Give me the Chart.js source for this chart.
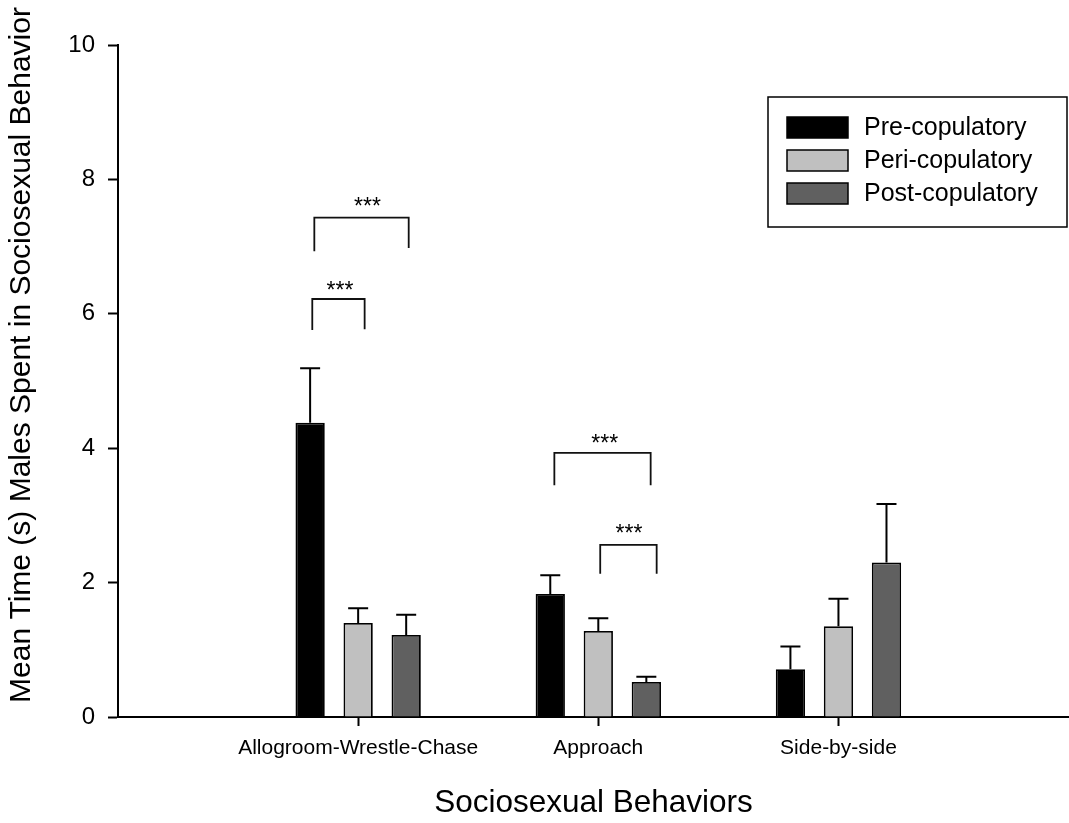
<!DOCTYPE html>
<html><head><meta charset="utf-8">
<script src="https://cdn.jsdelivr.net/npm/chart.js@4.4.1/dist/chart.umd.min.js"></script>
<style>html,body{margin:0;padding:0;background:#fff;overflow:hidden}#wrap{width:1069px;height:823px;position:relative}</style>
</head><body><div id="wrap"><canvas id="c"></canvas></div>
<script>
const categories = ['Allogroom-Wrestle-Chase', 'Approach', 'Side-by-side'];
const categoryPositions = [1, 2, 3];
const seriesNames = ['Pre-copulatory', 'Peri-copulatory', 'Post-copulatory'];
const seriesColors = ['#000000', '#c0c0c0', '#606060'];
const preMeans = [4.38, 1.83, 0.71];
const periMeans = [1.40, 1.28, 1.35];
const postMeans = [1.22, 0.52, 2.30];
const preErr = [0.81, 0.28, 0.34];
const periErr = [0.22, 0.19, 0.41];
const postErr = [0.30, 0.08, 0.87];
const yTicks = [0, 2, 4, 6, 8, 10];
const bracketStart = [0.809, 0.8175, 1.817, 2.008];
const bracketEnd = [1.027, 1.2105, 2.218, 2.243];
const bracketTop = [6.22, 7.43, 3.93, 2.56];
const bracketLeftFoot = [5.76, 6.93, 3.45, 2.13];
const bracketRightFoot = [5.77, 6.98, 3.45, 2.13];
const starX = [0.924, 1.039, 2.027, 2.128];
const starY = [6.41, 7.66, 4.14, 2.80];
const starText = ['***', '***', '***', '***'];
const yTitle = 'Mean Time (s) Males Spent in Sociosexual Behavior';
const xTitle = 'Sociosexual Behaviors';

const FONT = "'Liberation Sans', Arial, Helvetica, sans-serif";

function makeData(means) { return means.map((v, i) => ({ x: categoryPositions[i], y: v })); }

const allMeans = [preMeans, periMeans, postMeans];
const allErr = [preErr, periErr, postErr];

const datasets = seriesNames.map((name, k) => ({
  label: name,
  data: makeData(allMeans[k]),
  errors: allErr[k],
  backgroundColor: seriesColors[k],
  borderColor: '#000',
  borderWidth: 1.8,
  categoryPercentage: 0.6,
  barPercentage: 0.61
}));

const errorBarPlugin = {
  id: 'errorBars',
  afterDatasetsDraw(chart) {
    const ctx = chart.ctx, ys = chart.scales.y;
    chart.data.datasets.forEach((ds, di) => {
      const meta = chart.getDatasetMeta(di);
      meta.data.forEach((bar, i) => {
        const top = ys.getPixelForValue(ds.data[i].y + ds.errors[i]);
        ctx.save();
        ctx.strokeStyle = '#000';
        ctx.lineWidth = 2;
        ctx.beginPath();
        ctx.moveTo(bar.x, bar.y);
        ctx.lineTo(bar.x, top);
        ctx.moveTo(bar.x - 10, top);
        ctx.lineTo(bar.x + 10, top);
        ctx.stroke();
        ctx.restore();
      });
    });
  }
};

const bracketPlugin = {
  id: 'brackets',
  afterDatasetsDraw(chart) {
    const ctx = chart.ctx, xs = chart.scales.x, ys = chart.scales.y;
    ctx.save();
    ctx.strokeStyle = '#111';
    ctx.lineWidth = 1.8;
    for (let i = 0; i < bracketStart.length; i++) {
      const x1 = xs.getPixelForValue(bracketStart[i]);
      const x2 = xs.getPixelForValue(bracketEnd[i]);
      const yt = ys.getPixelForValue(bracketTop[i]);
      ctx.beginPath();
      ctx.moveTo(x1, ys.getPixelForValue(bracketLeftFoot[i]));
      ctx.lineTo(x1, yt);
      ctx.lineTo(x2, yt);
      ctx.lineTo(x2, ys.getPixelForValue(bracketRightFoot[i]));
      ctx.stroke();
      ctx.fillStyle = '#000';
      ctx.font = '23px ' + FONT;
      ctx.textAlign = 'center';
      ctx.textBaseline = 'alphabetic';
      ctx.fillText(starText[i], xs.getPixelForValue(starX[i]), ys.getPixelForValue(starY[i]) + 12.2);
    }
    ctx.restore();
  }
};

const legendAndTitlePlugin = {
  id: 'boxLegend',
  afterDraw(chart) {
    const ctx = chart.ctx;
    ctx.save();
    ctx.strokeStyle = '#000';
    ctx.lineWidth = 1.5;
    ctx.strokeRect(768, 97, 299, 130);
    chart.data.datasets.forEach((ds, k) => {
      const y0 = 117 + k * 33;
      ctx.fillStyle = ds.backgroundColor;
      ctx.fillRect(787, y0, 61, 21);
      ctx.strokeStyle = '#000';
      ctx.lineWidth = 1.5;
      ctx.strokeRect(787, y0, 61, 21);
      ctx.fillStyle = '#000';
      ctx.font = '25px ' + FONT;
      ctx.textAlign = 'left';
      ctx.textBaseline = 'middle';
      ctx.fillText(ds.label, 864, y0 + 11);
    });
    ctx.translate(22, 355);
    ctx.rotate(-Math.PI / 2);
    ctx.font = '30px ' + FONT;
    ctx.textAlign = 'center';
    ctx.textBaseline = 'middle';
    ctx.fillStyle = '#000';
    ctx.fillText(yTitle, 0, 0);
    ctx.restore();
  }
};

new Chart(document.getElementById('c'), {
  type: 'bar',
  data: { datasets },
  plugins: [errorBarPlugin, bracketPlugin, legendAndTitlePlugin],
  options: {
    responsive: true,
    maintainAspectRatio: false,
    animation: false,
    layout: { padding: { top: 45, right: 0, left: 0, bottom: 0 } },
    plugins: { legend: { display: false }, tooltip: { enabled: false } },
    scales: {
      x: {
        type: 'linear',
        min: 0,
        max: 3.96,
        offset: false,
        afterBuildTicks(scale) { scale.ticks = categoryPositions.map(v => ({ value: v })); },
        afterFit(scale) { scale.height = 106; },
        ticks: {
          color: '#000',
          font: { size: 21, family: FONT },
          padding: 10,
          maxRotation: 0,
          autoSkip: false,
          callback(value) { const i = categoryPositions.indexOf(value); return i >= 0 ? categories[i] : ''; }
        },
        grid: { display: true, offset: false, drawOnChartArea: false, drawTicks: true, tickLength: 9, color: '#000', tickColor: '#000', tickWidth: 2 },
        border: { display: true, color: '#000', width: 2 },
        title: { display: true, text: xTitle, color: '#000', font: { size: 31.5, family: FONT }, padding: { top: 0, bottom: 1 } }
      },
      y: {
        min: 0,
        max: 10,
        afterBuildTicks(scale) { scale.ticks = yTicks.map(v => ({ value: v })); },
        afterFit(scale) { scale.width = 118; },
        ticks: { color: '#000', font: { size: 24, family: FONT }, padding: 13, callback: v => String(v) },
        grid: { display: true, drawOnChartArea: false, drawTicks: true, tickLength: 10, color: '#000', tickColor: '#000', tickWidth: 2 },
        border: { display: true, color: '#000', width: 2 }
      }
    }
  }
});
</script>
</body></html>
